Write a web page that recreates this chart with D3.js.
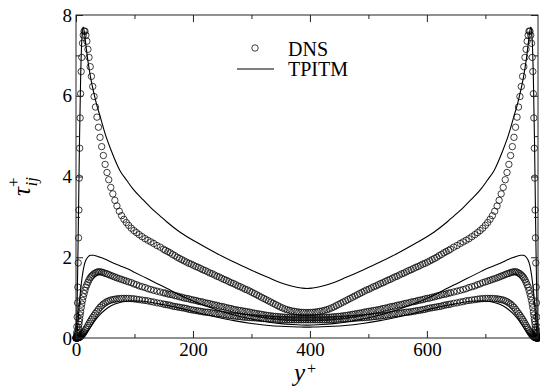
<!DOCTYPE html>
<html>
<head>
<meta charset="utf-8">
<script src="https://cdn.jsdelivr.net/npm/d3@7"></script>
<style>
  body { margin: 0; background: #fff; }
  text { font-family: "Liberation Serif", "Times New Roman", serif; }
</style>
</head>
<body>
<script>
// Channel width in wall units; the upper wall's points are the lower half mirrored about the centreline.
const channelWidth = 790;

// DNS grid points, lower half of the channel (y+)
const dnsY = [0, 0.4, 1, 1.5, 2, 2.6, 3.1, 3.8, 4.4, 5, 5.6, 6.3, 7.1, 7.9, 8.9, 9.9, 11.1, 12.4, 13.8, 15.3,
  16.9, 18.6, 20.4, 22.3, 24.3, 26.4, 28.6, 30.9, 33.3, 35.8, 38.4, 41.1, 43.9, 46.8, 49.8,
  53, 56, 59.5, 63, 66.5, 70, 74, 78, 82, 86, 90, 94.5, 99, 103.5, 108, 113, 118, 123, 128, 133, 138.5, 144, 149.5,
  153, 157, 161, 165, 169, 173, 177, 181, 185, 189, 193, 197, 201, 205, 209, 213, 217, 221, 225, 229,
  233, 237, 241, 245, 249, 253, 257, 261, 265, 269, 273, 277, 281, 285, 289, 293, 297, 301, 305, 309,
  313, 317, 321, 325, 329, 333, 337, 341, 345, 349, 353, 357, 361, 365, 369, 373, 377, 381, 385, 389, 393];

const dnsUU = [0, 0.03, 0.13, 0.28, 0.52, 0.87, 1.26, 1.86, 2.48, 3.17, 3.96, 4.7, 5.45, 6.05, 6.6, 6.95, 7.3, 7.5, 7.6, 7.6,
  7.5, 7.35, 7.15, 6.95, 6.72, 6.48, 6.23, 5.98, 5.72, 5.47, 5.22, 4.97, 4.74, 4.52, 4.3,
  4.1, 3.92, 3.73, 3.57, 3.41, 3.27, 3.14, 3.03, 2.94, 2.86, 2.79, 2.72, 2.66, 2.61, 2.56, 2.51, 2.46, 2.42, 2.38, 2.34, 2.29, 2.25, 2.2,
  2.17, 2.14, 2.11, 2.07, 2.04, 2.0, 1.97, 1.94, 1.91, 1.88, 1.85, 1.83, 1.8, 1.77, 1.75, 1.72, 1.69, 1.67, 1.64, 1.61,
  1.59, 1.56, 1.53, 1.51, 1.48, 1.45, 1.43, 1.4, 1.37, 1.35, 1.32, 1.29, 1.27, 1.24, 1.21, 1.19, 1.16, 1.13, 1.1, 1.07,
  1.04, 1.01, 0.98, 0.95, 0.92, 0.89, 0.86, 0.83, 0.8, 0.77, 0.745, 0.72, 0.7, 0.685, 0.67, 0.66, 0.65, 0.642, 0.636, 0.632, 0.63];

const dnsWW = [0, 0.002, 0.015, 0.03, 0.06, 0.1, 0.14, 0.21, 0.27, 0.34, 0.41, 0.48, 0.57, 0.65, 0.75, 0.84, 0.93, 1.02, 1.1, 1.18,
  1.26, 1.32, 1.38, 1.44, 1.49, 1.53, 1.56, 1.59, 1.61, 1.63, 1.64, 1.64, 1.63, 1.62, 1.6,
  1.59, 1.57, 1.55, 1.53, 1.51, 1.49, 1.47, 1.45, 1.43, 1.41, 1.39, 1.37, 1.34, 1.32, 1.29, 1.27, 1.25, 1.22, 1.2, 1.18, 1.16, 1.14, 1.12,
  1.11, 1.09, 1.08, 1.07, 1.05, 1.04, 1.02, 1.01, 0.99, 0.98, 0.97, 0.95, 0.94, 0.93, 0.91, 0.9, 0.89, 0.87, 0.86, 0.85,
  0.83, 0.82, 0.81, 0.79, 0.78, 0.77, 0.75, 0.74, 0.73, 0.71, 0.7, 0.69, 0.68, 0.67, 0.66, 0.65, 0.64, 0.625, 0.615, 0.605,
  0.595, 0.585, 0.575, 0.565, 0.555, 0.55, 0.54, 0.535, 0.53, 0.525, 0.52, 0.515, 0.51, 0.507, 0.505, 0.503, 0.502, 0.5, 0.5, 0.5, 0.5];

const dnsVV = [0, 0, 0, 0, 0.001, 0.002, 0.003, 0.005, 0.008, 0.012, 0.016, 0.022, 0.03, 0.04, 0.055, 0.07, 0.09, 0.115, 0.145, 0.18,
  0.22, 0.26, 0.31, 0.36, 0.41, 0.46, 0.51, 0.56, 0.61, 0.66, 0.71, 0.76, 0.8, 0.84, 0.87,
  0.9, 0.92, 0.94, 0.95, 0.96, 0.97, 0.975, 0.98, 0.98, 0.98, 0.98, 0.975, 0.97, 0.96, 0.95, 0.94, 0.93, 0.92, 0.9, 0.89, 0.87, 0.86, 0.84,
  0.83, 0.82, 0.81, 0.79, 0.78, 0.77, 0.76, 0.75, 0.74, 0.73, 0.71, 0.7, 0.69, 0.68, 0.67, 0.66, 0.65, 0.64, 0.64, 0.63,
  0.62, 0.61, 0.6, 0.6, 0.59, 0.58, 0.57, 0.56, 0.555, 0.545, 0.54, 0.535, 0.53, 0.52, 0.515, 0.51, 0.505, 0.5, 0.5, 0.495,
  0.49, 0.485, 0.48, 0.48, 0.475, 0.47, 0.467, 0.465, 0.462, 0.46, 0.457, 0.455, 0.452, 0.45, 0.45, 0.45, 0.45, 0.45, 0.45, 0.45, 0.45];

// TPITM model, lower half of the channel
const modelY = [0, 2, 4, 6, 8, 10, 12, 14, 17, 20, 25, 30, 35, 41, 50, 60, 75, 87, 97, 115, 130, 144, 155, 178, 210, 240, 270, 300, 330, 350, 370, 385, 395];
const modelUU = [0, 0.9, 2.8, 4.9, 6.5, 7.4, 7.7, 7.6, 7.25, 6.9, 6.45, 6.1, 5.8, 5.5, 5.05, 4.65, 4.15, 3.9, 3.7, 3.42, 3.2, 3.02, 2.88, 2.62, 2.34, 2.1, 1.88, 1.68, 1.49, 1.37, 1.28, 1.24, 1.225];
const modelWW = [0, 0.15, 0.5, 0.9, 1.2, 1.45, 1.65, 1.8, 1.93, 2.0, 2.05, 2.05, 2.03, 2.0, 1.95, 1.88, 1.79, 1.72, 1.65, 1.52, 1.41, 1.31, 1.23, 1.06, 0.86, 0.7, 0.57, 0.47, 0.39, 0.355, 0.333, 0.323, 0.32];
const modelVV = [0, 0, 0.005, 0.01, 0.02, 0.04, 0.06, 0.08, 0.12, 0.17, 0.27, 0.38, 0.48, 0.58, 0.7, 0.8, 0.88, 0.91, 0.92, 0.91, 0.88, 0.84, 0.81, 0.74, 0.62, 0.52, 0.43, 0.36, 0.31, 0.29, 0.277, 0.271, 0.27];

const xTicks = [0, 200, 400, 600];
const xMinor = [100, 300, 500, 700];
const yTicks = [0, 2, 4, 6, 8];
const yMinor = [1, 3, 5, 7];

const width = 540;
const height = 387;
const margin = { top: 15, right: 2, bottom: 49, left: 76 };

const x = d3.scaleLinear().domain([0, channelWidth]).range([margin.left, width - margin.right]);
const y = d3.scaleLinear().domain([0, 8]).range([height - margin.bottom, margin.top]);

// both walls: lower half as read, upper half mirrored about the centreline
function fullChannel(ys, vs) {
  const lower = ys.map((d, i) => [d, vs[i]]);
  const upper = ys.map((d, i) => [channelWidth - d, vs[i]]).filter(d => d[0] > ys[ys.length - 1]).reverse();
  return lower.concat(upper);
}

const svg = d3.create("svg")
  .attr("width", width)
  .attr("height", height);

// DNS circles
const dnsGroup = svg.append("g")
  .attr("fill", "none")
  .attr("stroke", "#000")
  .attr("stroke-width", 0.75);
[dnsUU, dnsWW, dnsVV].forEach(vs => {
  dnsGroup.append("g")
    .selectAll("circle")
    .data(fullChannel(dnsY, vs))
    .join("circle")
    .attr("cx", d => x(d[0]))
    .attr("cy", d => y(d[1]))
    .attr("r", 3.2);
});

// TPITM lines
const line = d3.line()
  .x(d => x(d[0]))
  .y(d => y(d[1]))
  .curve(d3.curveMonotoneX);
[modelUU, modelWW, modelVV].forEach(vs => {
  svg.append("path")
    .attr("d", line(fullChannel(modelY, vs)))
    .attr("fill", "none")
    .attr("stroke", "#000")
    .attr("stroke-width", 1.1);
});

// frame
svg.append("rect")
  .attr("x", margin.left)
  .attr("y", margin.top)
  .attr("width", width - margin.left - margin.right)
  .attr("height", height - margin.top - margin.bottom)
  .attr("fill", "none")
  .attr("stroke", "#222")
  .attr("stroke-width", 1);

function styleAxis(g) {
  g.select(".domain").remove();
  g.selectAll(".tick line").attr("stroke", "#222");
  g.selectAll(".tick text")
    .attr("fill", "#000")
    .style("font-size", "19px")
    .style("font-family", '"Liberation Serif", "Times New Roman", serif');
}

const bottom = height - margin.bottom;
svg.append("g").attr("transform", `translate(0,${bottom})`)
  .call(d3.axisBottom(x).tickValues(xTicks).tickSize(-7).tickPadding(5).tickFormat(d3.format("d")))
  .call(styleAxis);
svg.append("g").attr("transform", `translate(0,${bottom})`)
  .call(d3.axisBottom(x).tickValues(xMinor).tickSize(-4).tickFormat(""))
  .call(styleAxis);
svg.append("g").attr("transform", `translate(0,${margin.top})`)
  .call(d3.axisTop(x).tickValues(xTicks).tickSize(-7).tickFormat(""))
  .call(styleAxis);
svg.append("g").attr("transform", `translate(0,${margin.top})`)
  .call(d3.axisTop(x).tickValues(xMinor).tickSize(-4).tickFormat(""))
  .call(styleAxis);

svg.append("g").attr("transform", `translate(${margin.left},0)`)
  .call(d3.axisLeft(y).tickValues(yTicks).tickSize(-7).tickPadding(4).tickFormat(d3.format("d")))
  .call(styleAxis);
svg.append("g").attr("transform", `translate(${margin.left},0)`)
  .call(d3.axisLeft(y).tickValues(yMinor).tickSize(-4).tickFormat(""))
  .call(styleAxis);
svg.append("g").attr("transform", `translate(${width - margin.right},0)`)
  .call(d3.axisRight(y).tickValues(yTicks).tickSize(-7).tickFormat(""))
  .call(styleAxis);
svg.append("g").attr("transform", `translate(${width - margin.right},0)`)
  .call(d3.axisRight(y).tickValues(yMinor).tickSize(-4).tickFormat(""))
  .call(styleAxis);

// axis titles
const xTitle = svg.append("text")
  .attr("x", 294)
  .attr("y", 381)
  .style("font-size", "25px");
xTitle.append("tspan").style("font-style", "italic").text("y");
xTitle.append("tspan").attr("dx", 2).attr("dy", -7).style("font-size", "16px").text("+");

const yTitle = svg.append("text")
  .attr("transform", "translate(30,196) rotate(-90)")
  .style("font-size", "25px");
yTitle.append("tspan").style("font-style", "italic").text("τ");
yTitle.append("tspan").attr("dy", -11).style("font-size", "17px").text("+");
yTitle.append("tspan").attr("dx", -9).attr("dy", 18).style("font-size", "17px").style("font-style", "italic").text("ij");

// legend
const legend = svg.append("g");
legend.append("circle")
  .attr("cx", 255).attr("cy", 48).attr("r", 3.2)
  .attr("fill", "none").attr("stroke", "#000").attr("stroke-width", 0.75);
legend.append("text").attr("x", 288).attr("y", 56).style("font-size", "20px").text("DNS");
legend.append("line")
  .attr("x1", 237).attr("x2", 274).attr("y1", 69).attr("y2", 69)
  .attr("stroke", "#000").attr("stroke-width", 1.1);
legend.append("text").attr("x", 288).attr("y", 76).style("font-size", "20px").text("TPITM");

document.body.appendChild(svg.node());
</script>
</body>
</html>
